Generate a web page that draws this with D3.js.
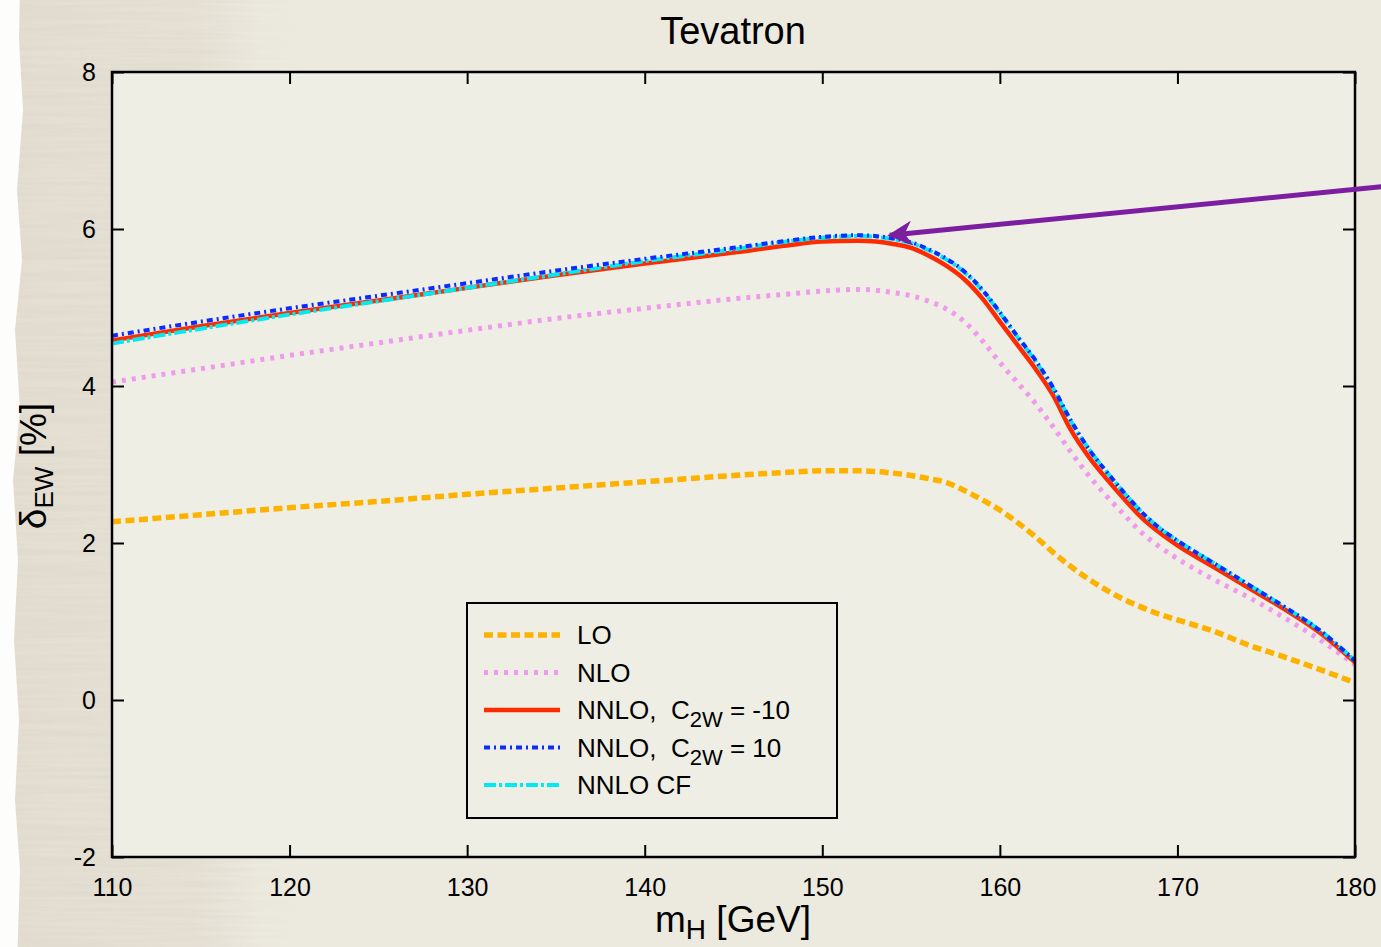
<!DOCTYPE html>
<html>
<meta charset="utf-8">
<head>
<script src="https://cdnjs.cloudflare.com/ajax/libs/d3/7.8.5/d3.min.js"></script>
</head>
<style>
body { margin: 0; background: #ece9de; font-family: "Liberation Sans", Arial, sans-serif; }
.axis .domain { display: none; }
.axis .tick line { stroke: #000; stroke-width: 2px; }
.axis .tick text { font-size: 25px; fill: #000; font-family: "Liberation Sans", Arial, sans-serif; }
.curve { fill: none; }
.legend text { white-space: pre; }
</style>
<body>
<svg id="canvas"></svg>
<script>
// Higgs masses the curves are sampled at (GeV)
var masses = [110,115,120,125,130,135,140,145,148,150,152,153,154,155,156,157,158,159,160,
              161,162,163,164,165,166,167,168,169,170,172,174,176,178,180];
// delta_EW in percent
var lo    = [2.27,2.36,2.45,2.53,2.62,2.70,2.78,2.86,2.90,2.92,2.92,2.91,2.89,2.86,2.82,2.77,2.67,2.55,2.42,
             2.26,2.08,1.88,1.70,1.54,1.40,1.28,1.18,1.09,1.02,0.88,0.70,0.55,0.39,0.22];
var nlo   = [4.05,4.22,4.39,4.55,4.71,4.86,4.99,5.11,5.17,5.21,5.23,5.22,5.19,5.15,5.08,4.98,4.82,4.58,4.30,
             4.04,3.78,3.48,3.16,2.86,2.60,2.36,2.13,1.95,1.80,1.54,1.31,1.05,0.77,0.45];
var nnloM = [4.58,4.76,4.93,5.09,5.25,5.41,5.56,5.70,5.79,5.84,5.85,5.84,5.81,5.76,5.66,5.53,5.36,5.12,4.82,
             4.52,4.22,3.88,3.44,3.10,2.82,2.56,2.32,2.13,1.97,1.70,1.43,1.16,0.86,0.48];
var nnloP = [4.64,4.82,4.99,5.15,5.31,5.47,5.62,5.76,5.85,5.90,5.92,5.91,5.88,5.83,5.74,5.62,5.46,5.23,4.94,
             4.63,4.33,3.98,3.56,3.20,2.91,2.64,2.39,2.19,2.03,1.75,1.47,1.19,0.89,0.50];
var nnloCF= [4.54,4.73,4.91,5.08,5.25,5.42,5.59,5.74,5.84,5.89,5.91,5.90,5.87,5.82,5.73,5.61,5.45,5.22,4.93,
             4.62,4.32,3.97,3.55,3.20,2.91,2.64,2.39,2.19,2.03,1.75,1.47,1.19,0.89,0.50];

var xTicks = [110,120,130,140,150,160,170,180];
var yTicks = [-2,0,2,4,6,8];

// arrow annotation, in data units: from tail (off the right edge) to tip
var arrowTail = [181.5, 6.54];
var arrowTip  = [153.8, 5.92];

var series = [
  {name: "LO",   values: lo,     color: "#fdb200", width: 5.5, dash: "9,4.5"},
  {name: "NLO",  values: nlo,    color: "#f09aee", width: 5,   dash: "4,6"},
  {name: "NNLO,  C", sub: "2W", tail: " = -10", values: nnloM, color: "#ff2a00", width: 4.5, dash: null},
  {name: "NNLO,  C", sub: "2W", tail: " = 10",  values: nnloP, color: "#0a2dff", width: 4,   dash: "6,4,2,4"},
  {name: "NNLO CF", values: nnloCF, color: "#00eaf0", width: 4, dash: "12,3,3,3"}
];
// draw order: cyan under blue
var drawOrder = [0, 1, 2, 4, 3];

const W = 1381, H = 947;
const margin = {left: 112, top: 72, right: 26, bottom: 90};
const pw = W - margin.left - margin.right;
const ph = H - margin.top - margin.bottom;

const svg = d3.select('#canvas').attr('width', W).attr('height', H);

// paper background
const defs = svg.append('defs');
const f = defs.append('filter').attr('id', 'paper').attr('x', 0).attr('y', 0).attr('width', 1).attr('height', 1);
f.append('feTurbulence').attr('type', 'fractalNoise').attr('baseFrequency', '0.008 0.25')
 .attr('numOctaves', 3).attr('seed', 7);
f.append('feColorMatrix').attr('type', 'matrix')
 .attr('values', '0 0 0 0 0.62  0 0 0 0 0.59  0 0 0 0 0.52  0.45 0 0 0 -0.17');
f.append('feComposite').attr('in2', 'SourceGraphic').attr('operator', 'in');

const grad = defs.append('linearGradient').attr('id', 'fade');
grad.append('stop').attr('offset', '0%').attr('stop-color', '#e3ded1');
grad.append('stop').attr('offset', '75%').attr('stop-color', '#e6e1d5');
grad.append('stop').attr('offset', '100%').attr('stop-color', '#ece9de');

const mgrad = defs.append('linearGradient').attr('id', 'mfade');
mgrad.append('stop').attr('offset', '0%').attr('stop-color', '#fff');
mgrad.append('stop').attr('offset', '70%').attr('stop-color', '#fff');
mgrad.append('stop').attr('offset', '100%').attr('stop-color', '#000');
defs.append('mask').attr('id', 'texmask')
  .append('rect').attr('x', 0).attr('width', 300).attr('height', H).attr('fill', 'url(#mfade)');

svg.append('rect').attr('width', W).attr('height', H).attr('fill', '#ece9de');
svg.append('rect').attr('width', 260).attr('height', H).attr('fill', 'url(#fade)');
svg.append('g').attr('mask', 'url(#texmask)')
   .append('rect').attr('x', 10).attr('width', 290).attr('height', H).attr('fill', '#fff')
   .attr('filter', 'url(#paper)');

// torn white edge on the left
const edge = [[0,-20],[20,-20],[19,40],[23,110],[17,190],[22,260],[15,330],[20,410],[13,480],[18,560],
              [14,640],[19,720],[15,800],[20,870],[17,967],[0,967]];
svg.append('path').attr('d', d3.line().curve(d3.curveLinear)(edge)).attr('fill', '#fdfdfc');

const x = d3.scaleLinear().domain([110, 180]).range([0, pw]);
const y = d3.scaleLinear().domain([-2, 8]).range([ph, 0]);

const g = svg.append('g').attr('transform', `translate(${margin.left},${margin.top})`);

g.append('rect').attr('width', pw).attr('height', ph).attr('fill', '#efeee5');

// axes with inward ticks on all four sides
g.append('g').classed('axis', true).attr('transform', `translate(0,${ph})`)
 .call(d3.axisBottom(x).tickValues(xTicks).tickSize(-12).tickFormat(d => String(d)))
 .selectAll('text').attr('dy', '0.71em').attr('y', 21);
g.append('g').classed('axis', true)
 .call(d3.axisTop(x).tickValues(xTicks).tickSize(-12).tickFormat(''));
g.append('g').classed('axis', true)
 .call(d3.axisLeft(y).tickValues(yTicks).tickSize(-12).tickPadding(16).tickFormat(d => String(d)));
g.append('g').classed('axis', true).attr('transform', `translate(${pw},0)`)
 .call(d3.axisRight(y).tickValues(yTicks).tickSize(-12).tickFormat(''));

// curves
const line = d3.line().curve(d3.curveMonotoneX)
  .x(d => x(d[0])).y(d => y(d[1]));

drawOrder.forEach(function(i) {
  const s = series[i];
  g.append('path').classed('curve', true)
   .attr('d', line(masses.map((m, k) => [m, s.values[k]])))
   .attr('stroke', s.color)
   .attr('stroke-width', s.width)
   .attr('stroke-dasharray', s.dash);
});

// frame
g.append('rect').attr('width', pw).attr('height', ph)
 .attr('fill', 'none').attr('stroke', '#000').attr('stroke-width', 2.5);

// legend
const lg = g.append('g').classed('legend', true).attr('transform', 'translate(355,531)');
lg.append('rect').attr('width', 370).attr('height', 215)
  .attr('fill', 'none').attr('stroke', '#000').attr('stroke-width', 2);
series.forEach(function(s, i) {
  const ly = 32 + i * 37.5;
  lg.append('line').attr('x1', 17).attr('x2', 93).attr('y1', ly).attr('y2', ly)
    .attr('stroke', s.color).attr('stroke-width', s.width).attr('stroke-dasharray', s.dash);
  const t = lg.append('text').attr('x', 110).attr('y', ly + 9)
    .style('font-size', '26px').text(s.name);
  if (s.sub) {
    t.append('tspan').attr('dy', 8).style('font-size', '22px').text(s.sub);
    t.append('tspan').attr('dy', -8).text(s.tail);
  }
});

// arrow
const arrowColor = '#7b1fa0';
defs.append('marker').attr('id', 'head').attr('viewBox', '0 0 10 10')
  .attr('refX', 9).attr('refY', 5).attr('markerWidth', 5.2).attr('markerHeight', 5)
  .attr('markerUnits', 'strokeWidth').attr('orient', 'auto')
  .append('path').attr('d', 'M0,0 L10,5 L0,10 L3,5 Z').attr('fill', arrowColor);
svg.append('line')
  .attr('x1', margin.left + x(arrowTail[0])).attr('y1', margin.top + y(arrowTail[1]))
  .attr('x2', margin.left + x(arrowTip[0])).attr('y2', margin.top + y(arrowTip[1]))
  .attr('stroke', arrowColor).attr('stroke-width', 5)
  .attr('marker-end', 'url(#head)');

// titles
svg.append('text').attr('x', 733).attr('y', 44).attr('text-anchor', 'middle')
  .style('font-size', '38px').text('Tevatron');

const xl = svg.append('text').attr('x', 733).attr('y', 932).attr('text-anchor', 'middle')
  .style('font-size', '37px').text('m');
xl.append('tspan').attr('dy', 7).style('font-size', '28px').text('H');
xl.append('tspan').attr('dy', -7).text(' [GeV]');

const yl = svg.append('text').attr('transform', 'translate(46,466) rotate(-90)')
  .attr('text-anchor', 'middle').style('font-size', '37px').text('δ');
yl.append('tspan').attr('dy', 7).style('font-size', '26px').text('EW');
yl.append('tspan').attr('dy', -7).text(' [%]');
</script>
</body>
</html>
